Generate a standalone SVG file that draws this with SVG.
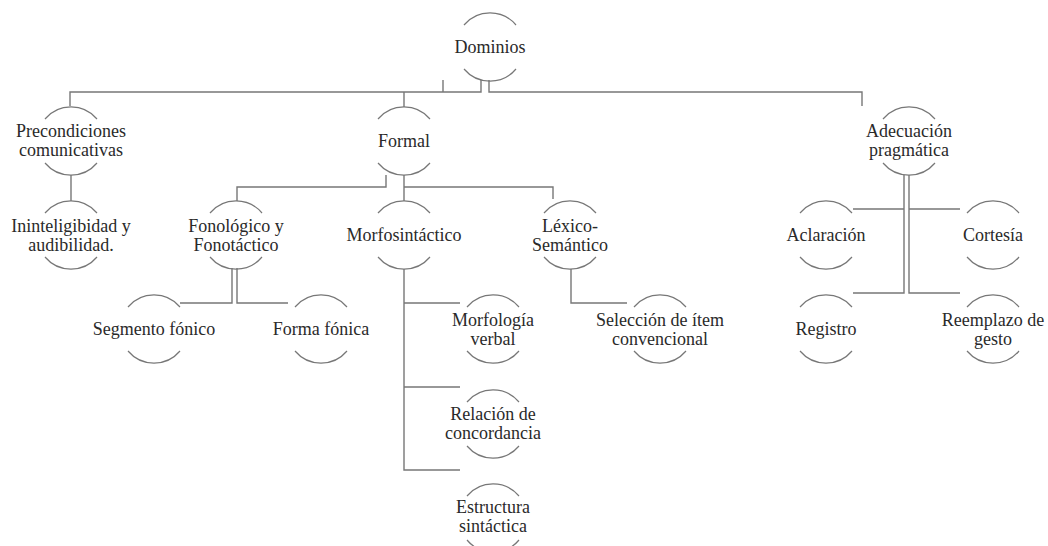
<svg xmlns="http://www.w3.org/2000/svg" width="1048" height="546" viewBox="0 0 1048 546">
<style>
.arc{fill:none;stroke:#777;stroke-width:1.2}
.ln{fill:none;stroke:#777;stroke-width:1.4}
.t{font-family:"Liberation Serif","Tinos","DejaVu Serif","Times New Roman",serif;font-size:18px;fill:#2a2a2a;text-anchor:middle}
</style>
<defs>
<path id="c" class="arc" d="M-26,-22 A34,34 0 0 1 26,-22 M-26,22 A34,34 0 0 0 26,22"/>
</defs>
<rect width="1048" height="546" fill="#fff"/>
<g id="connectors">
<path class="ln" d="M481,80 V92 H70 V106"/>
<path class="ln" d="M443,80 V92"/>
<path class="ln" d="M404,92 V107"/>
<path class="ln" d="M489,80 V92 H862 V106"/>
<path class="ln" d="M71,175 V201"/>
<path class="ln" d="M386,175 V187 H237 V201"/>
<path class="ln" d="M404,175 V201"/>
<path class="ln" d="M404,187 H553 V199"/>
<path class="ln" d="M232,268 V303 H180"/>
<path class="ln" d="M237,268 V303 H288"/>
<path class="ln" d="M404,269 V470 H460 M404,303 H460 M404,387 H460"/>
<path class="ln" d="M571,269 V303 H627"/>
<path class="ln" d="M904,175 V293 H853 M909,175 V293 H960 M853,209 H904 M909,209 H960"/>
</g>
<g id="n-dominios"><use href="#c" x="490" y="47"/><text class="t" font-family="Liberation Serif, serif" x="490" y="53">Dominios</text></g>
<g id="n-precond"><use href="#c" x="71" y="141"/><text class="t" x="71" y="137">Precondiciones</text><text class="t" x="71" y="156">comunicativas</text></g>
<g id="n-formal"><use href="#c" x="404" y="141"/><text class="t" x="404" y="147">Formal</text></g>
<g id="n-adecuacion"><use href="#c" x="909" y="141"/><text class="t" x="909" y="137">Adecuación</text><text class="t" x="909" y="156">pragmática</text></g>
<g id="n-inint"><use href="#c" x="71" y="235"/><text class="t" x="71" y="232">Ininteligibidad y</text><text class="t" x="71" y="251">audibilidad.</text></g>
<g id="n-fonologico"><use href="#c" x="236" y="235"/><text class="t" x="236" y="232">Fonológico y</text><text class="t" x="236" y="251">Fonotáctico</text></g>
<g id="n-morfosint"><use href="#c" x="404" y="235"/><text class="t" x="404" y="241">Morfosintáctico</text></g>
<g id="n-lexico"><use href="#c" x="570" y="235"/><text class="t" x="570" y="232">Léxico-</text><text class="t" x="570" y="251">Semántico</text></g>
<g id="n-aclaracion"><use href="#c" x="826" y="235"/><text class="t" x="826" y="241">Aclaración</text></g>
<g id="n-cortesia"><use href="#c" x="993" y="235"/><text class="t" x="993" y="241">Cortesía</text></g>
<g id="n-segmento"><use href="#c" x="154" y="329"/><text class="t" x="154" y="335">Segmento fónico</text></g>
<g id="n-forma"><use href="#c" x="321" y="329"/><text class="t" x="321" y="335">Forma fónica</text></g>
<g id="n-morfologia"><use href="#c" x="493" y="329"/><text class="t" x="493" y="326">Morfología</text><text class="t" x="493" y="345">verbal</text></g>
<g id="n-seleccion"><use href="#c" x="660" y="329"/><text class="t" x="660" y="326">Selección de ítem</text><text class="t" x="660" y="345">convencional</text></g>
<g id="n-registro"><use href="#c" x="826" y="329"/><text class="t" x="826" y="335">Registro</text></g>
<g id="n-reemplazo"><use href="#c" x="993" y="329"/><text class="t" x="993" y="326">Reemplazo de</text><text class="t" x="993" y="345">gesto</text></g>
<g id="n-relacion"><use href="#c" x="493" y="424"/><text class="t" x="493" y="420">Relación de</text><text class="t" x="493" y="439">concordancia</text></g>
<g id="n-estructura"><use href="#c" x="493" y="518"/><text class="t" x="493" y="513">Estructura</text><text class="t" x="493" y="532">sintáctica</text></g>
</svg>
